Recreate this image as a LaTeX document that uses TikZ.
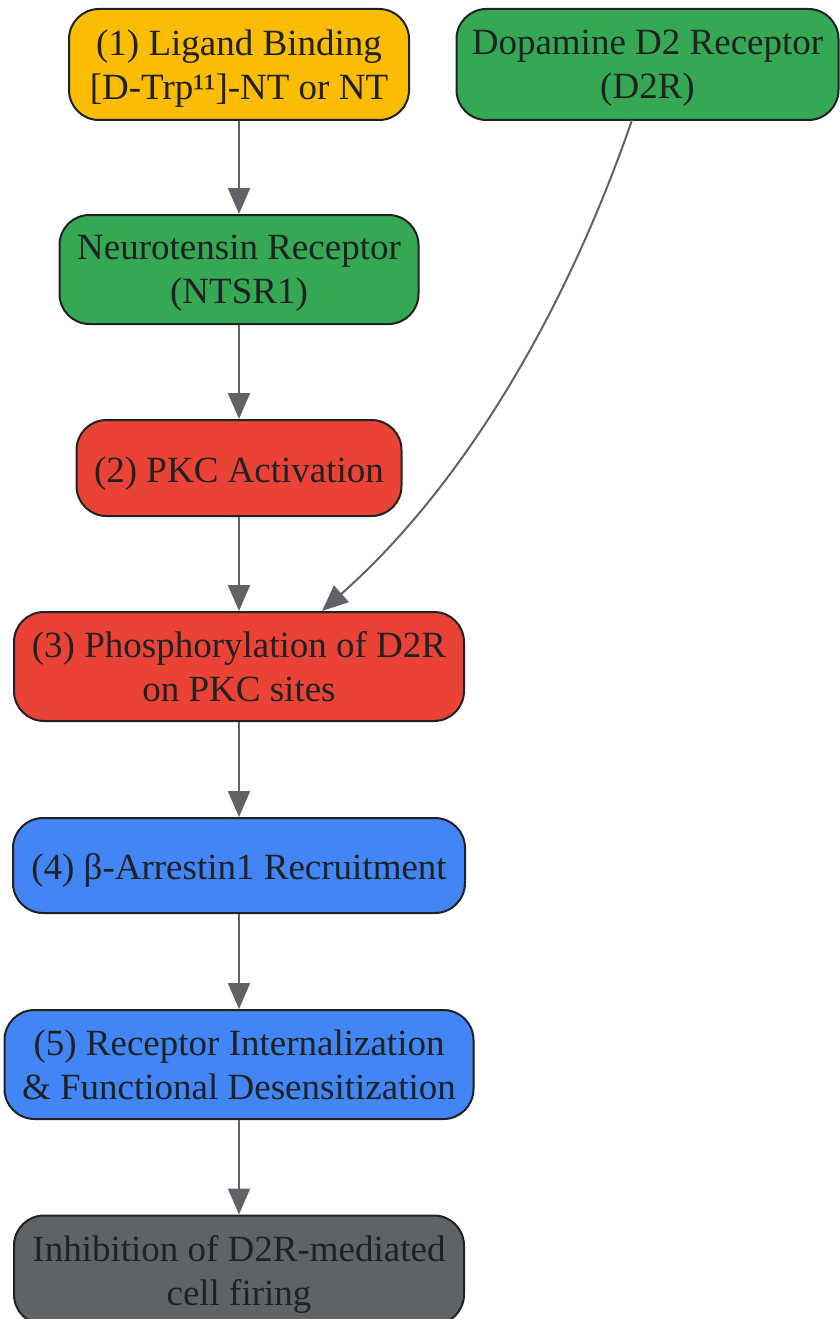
\documentclass[tikz,border=0pt]{standalone}
\usepackage{fontspec}
\setmainfont{Liberation Serif}
\usetikzlibrary{arrows.meta}
\definecolor{cyel}{HTML}{FBBC04}
\definecolor{cgrn}{HTML}{34A853}
\definecolor{cred}{HTML}{EA4335}
\definecolor{cblu}{HTML}{4285F4}
\definecolor{cgry}{HTML}{5F6368}
\definecolor{ctxt}{HTML}{202124}
\definecolor{cline}{HTML}{5F6368}
\tikzset{
  box/.style={draw=ctxt, line width=2pt, rounded corners=30pt, align=center,
    text=ctxt, inner sep=0pt, font=\fontsize{37}{44}\selectfont},
  onebox/.style={box,
    execute at begin node={\rule{0pt}{38pt}},
    execute at end node={\rule[-10pt]{0pt}{0pt}}},
  twobox/.style={box, text depth=0pt},
  conn/.style={draw=cline, line width=2pt, -{Triangle[length=26pt,width=22pt]}},
}
\begin{document}
\begin{tikzpicture}[x=1pt,y=-1pt]
\useasboundingbox (0,0) rectangle (839,1319);
\node[twobox, fill=cyel, minimum width=340pt, minimum height=111pt] (lig) at (239,64.5) {(1) Ligand Binding\\{[}D-Trp¹¹]-NT or NT};
\node[twobox, fill=cgrn, minimum width=382pt, minimum height=111pt] (d2r) at (647.5,64.5) {Dopamine D2 Receptor\\(D2R)};
\node[twobox, fill=cgrn, minimum width=359pt, minimum height=109pt] (nts) at (239,269.5) {Neurotensin Receptor\\(NTSR1)};
\node[onebox, fill=cred, minimum width=325pt, minimum height=96pt] (pkc) at (239,468) {(2) PKC Activation};
\node[twobox, fill=cred, minimum width=450pt, minimum height=109pt] (pho) at (239,666.5) {(3) Phosphorylation of D2R\\on PKC sites};
\node[onebox, fill=cblu, minimum width=452pt, minimum height=95pt] (arr) at (239,865.5) {(4) β-Arrestin1 Recruitment};
\node[twobox, fill=cblu, minimum width=469pt, minimum height=109pt] (int) at (239,1064.5) {(5) Receptor Internalization\\\& Functional Desensitization};
\node[twobox, fill=cgry, minimum width=450pt, minimum height=109pt] (inh) at (239,1270) {Inhibition of D2R-mediated\\cell firing};
\coordinate (d2rout) at (632,120);
\coordinate (phoin) at (322,611);
\draw[conn] (lig) -- (nts);
\draw[conn] (nts) -- (pkc);
\draw[conn] (pkc) -- (pho);
\draw[conn] (pho) -- (arr);
\draw[conn] (arr) -- (int);
\draw[conn] (int) -- (inh);
\draw[conn] (d2rout) .. controls (570,300) and (470,480) .. (phoin);
\end{tikzpicture}
\end{document}
